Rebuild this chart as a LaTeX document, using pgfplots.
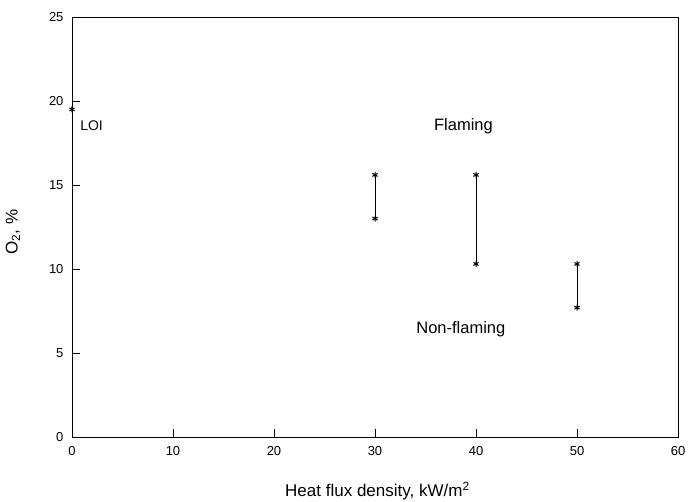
\documentclass[border=0pt]{standalone}
\usepackage{pgfplots}
\pgfplotsset{compat=1.18}
\usepackage{fontspec}
\setmainfont{Liberation Sans}
\begin{document}
\begin{tikzpicture}
\begin{axis}[
  scale only axis,
  width=606pt, height=420pt,
  xmin=0, xmax=60, ymin=0, ymax=25,
  xtick={0,10,...,60}, ytick={0,5,...,25},
  xtick pos=bottom, ytick pos=left,
  tick align=inside,
  major tick length=8pt,
  tick style={black, line width=0.6pt},
  axis line style={line width=0.9pt},
  ticklabel style={font=\fontsize{13}{15}\selectfont},
  yticklabel style={xshift=-5pt},
  xticklabel style={yshift=-6pt},
  /pgf/number format/assume math mode=true,
  xlabel={Heat flux density, kW/m\textsuperscript{2}},
  ylabel={O\textsubscript{2}, \%},
  label style={font=\fontsize{17}{19}\selectfont},
  xlabel style={at={(axis description cs:0.504,0)}, anchor=base, yshift=-60pt},
  ylabel style={at={(axis description cs:-0.0974,0.488)}, anchor=center},
  clip=false,
]
\addplot[black, line width=0.7pt, mark=asterisk, mark size=3pt, mark options={line width=1pt}] coordinates {(30,15.6) (30,13.0)};
\addplot[black, line width=0.7pt, mark=asterisk, mark size=3pt, mark options={line width=1pt}] coordinates {(40,15.6) (40,10.3)};
\addplot[black, line width=0.7pt, mark=asterisk, mark size=3pt, mark options={line width=1pt}] coordinates {(50,10.3) (50,7.7)};
\addplot[black, only marks, mark=asterisk, mark size=3pt, mark options={line width=1pt}] coordinates {(0,19.5)};
\node[font=\fontsize{14}{16}\selectfont, anchor=base west, inner sep=0pt] at (axis cs:0.8,18.27) {LOI};
\node[font=\fontsize{16.5}{18}\selectfont, anchor=base, inner sep=0pt] at (axis cs:38.76,18.27) {Flaming};
\node[font=\fontsize{16.5}{18}\selectfont, anchor=base, inner sep=0pt] at (axis cs:38.5,6.19) {Non-flaming};
\end{axis}
\pgfresetboundingbox
\path (-72pt,-65pt) rectangle (616pt,437pt);
\end{tikzpicture}
\end{document}
